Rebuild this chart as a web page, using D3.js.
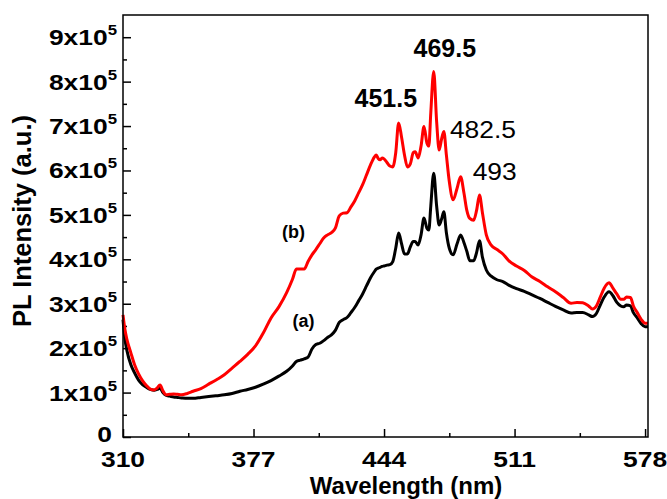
<!DOCTYPE html>
<html>
<head>
<meta charset="utf-8">
<script src="https://cdnjs.cloudflare.com/ajax/libs/d3/7.8.5/d3.min.js"></script>
<style>
	body { margin: 0; background: #fff; }
	svg { font-family: "Liberation Sans", Arial, sans-serif; }
</style>
</head>
<body>
<div id="vis-container"></div>
<script>
/* DATA - intensity in units of 1e5 */

const wavelength = [
	310, 311, 312, 314, 316, 318, 320, 322, 324, 326,
	327.5, 329, 330.5, 332, 334, 336, 338, 340, 343, 346,
	350, 354, 358, 362, 366, 370, 374, 378, 382, 386,
	390, 394, 397, 399, 401, 403, 405, 407, 409, 411,
	413, 415, 417, 419, 421, 423, 425, 427, 429, 431,
	433, 435, 437, 439, 440, 441, 442, 443, 444, 445.5,
	447, 448.5, 450, 451.5, 453, 454.5, 456, 457.5, 459, 460,
	461.5, 463, 464.5, 466, 467, 468, 469.5, 471, 472.3, 473.5,
	474.7, 476, 477.5, 479.5, 481.5, 483.3, 485, 486.5, 488, 490,
	491.5, 493, 494.5, 496.5, 499, 502, 505, 508, 512, 516,
	520, 524, 528, 532, 536, 540, 543, 546, 549, 551,
	553, 555, 557, 559.5, 561.5, 563.5, 565.5, 567, 568.5, 570.5,
	572, 574, 576, 578, 579.5
];

// (a) black
const seriesA = [
	2.64, 2.20, 1.95, 1.63, 1.44, 1.28, 1.18, 1.12, 1.07, 1.05,
	1.07, 1.10, 1.00, 0.94, 0.92, 0.90, 0.89, 0.88, 0.87, 0.87,
	0.89, 0.91, 0.93, 0.95, 0.98, 1.03, 1.07, 1.12, 1.19, 1.27,
	1.37, 1.48, 1.60, 1.70, 1.73, 1.76, 1.80, 1.98, 2.08, 2.11,
	2.17, 2.24, 2.30, 2.40, 2.58, 2.64, 2.69, 2.80, 2.92, 3.07,
	3.22, 3.40, 3.58, 3.72, 3.78, 3.80, 3.82, 3.84, 3.85, 3.87,
	3.88, 3.95, 4.25, 4.59, 4.35, 4.12, 4.12, 4.28, 4.40, 4.40,
	4.32, 4.55, 4.93, 4.70, 4.66, 5.20, 5.94, 5.20, 4.77, 4.90,
	5.07, 4.60, 4.25, 4.10, 4.35, 4.55, 4.38, 4.18, 3.97, 3.97,
	4.15, 4.42, 4.05, 3.76, 3.62, 3.54, 3.50, 3.42, 3.34, 3.28,
	3.20, 3.12, 3.03, 2.94, 2.86, 2.79, 2.80, 2.80, 2.75, 2.71,
	2.78, 2.97, 3.15, 3.27, 3.18, 3.03, 2.95, 2.93, 2.97, 2.95,
	2.80, 2.68, 2.55, 2.48, 2.48
];

// (b) red
const seriesB = [
	2.75, 2.42, 2.20, 1.90, 1.62, 1.42, 1.27, 1.16, 1.08, 1.06,
	1.10, 1.17, 1.04, 0.95, 0.96, 0.97, 0.96, 0.95, 0.98, 1.03,
	1.09, 1.19, 1.29, 1.40, 1.55, 1.70, 1.86, 2.05, 2.34, 2.68,
	2.93, 3.25, 3.55, 3.78, 3.78, 3.78, 3.95, 4.10, 4.22, 4.35,
	4.48, 4.55, 4.60, 4.70, 4.98, 5.04, 5.05, 5.18, 5.32, 5.50,
	5.68, 5.90, 6.12, 6.30, 6.35, 6.27, 6.24, 6.28, 6.26, 6.18,
	6.10, 6.08, 6.40, 7.07, 6.75, 6.35, 6.08, 6.15, 6.40, 6.42,
	6.28, 6.55, 6.99, 6.62, 6.55, 7.30, 8.23, 7.10, 6.46, 6.70,
	6.88, 6.35, 5.75, 5.34, 5.60, 5.86, 5.50, 5.10, 4.92, 4.88,
	5.10, 5.45, 5.05, 4.55, 4.32, 4.22, 4.12, 3.97, 3.85, 3.75,
	3.60, 3.50, 3.38, 3.27, 3.14, 3.01, 3.03, 3.02, 2.95, 2.88,
	2.95, 3.15, 3.35, 3.47, 3.35, 3.22, 3.10, 3.10, 3.15, 3.14,
	2.95, 2.80, 2.65, 2.56, 2.56
];

const xTicks = [310, 377, 444, 511, 578];
const yTicks = [0, 1, 2, 3, 4, 5, 6, 7, 8, 9];
const peakNames = ["469.5", "451.5", "482.5", "493"];
const curveNames = ["(a)", "(b)"];

/* CHART */

let margin = {top: 15, right: 19, bottom: 62, left: 123},
	width = 667,
	height = 499,
	dWidth = width - margin.left - margin.right,
	dHeight = height - margin.top - margin.bottom;

let x = d3.scaleLinear().domain([310, 579.5]).range([0, dWidth]);
let y = d3.scaleLinear().domain([0, 9.5]).range([dHeight, 0]);

let svg = d3.select('#vis-container')
	.append('svg')
	.attr('width', width)
	.attr('height', height);

let g = svg.append("g").attr("transform", `translate(${margin.left},${margin.top})`);

// text with an optional sideways stretch (tick labels in the source look widened)
const addText = (parent, px, py, str, size, weight, anchor, sx) => {
	return parent.append("text")
		.attr("transform", `translate(${px},${py}) scale(${sx || 1},1)`)
		.attr("text-anchor", anchor || "middle")
		.attr("font-size", size)
		.attr("font-weight", weight || "bold")
		.attr("fill", "#000")
		.text(str);
}

// ticks, pointing inward
const styleAxis = sel => {
	sel.select(".domain").remove();
	sel.selectAll("line").attr("stroke", "#000").attr("stroke-width", 1.5);
}

let xMinor = xTicks.slice(0, -1).map(v => v + 33.5);
let yMinor = yTicks.slice(0, -1).map(v => v + 0.5);

g.append("g").attr("transform", `translate(0,${dHeight})`)
	.call(d3.axisBottom(x).tickValues(xTicks).tickSize(-8).tickFormat(""))
	.call(styleAxis);
g.append("g").attr("transform", `translate(0,${dHeight})`)
	.call(d3.axisBottom(x).tickValues(xMinor).tickSize(-4).tickFormat(""))
	.call(styleAxis);
g.append("g")
	.call(d3.axisLeft(y).tickValues(yTicks).tickSize(-8).tickFormat(""))
	.call(styleAxis);
g.append("g")
	.call(d3.axisLeft(y).tickValues(yMinor).tickSize(-4).tickFormat(""))
	.call(styleAxis);

// tick labels
xTicks.forEach(v => addText(g, x(v), dHeight + 30, v, 22, "bold", "middle", 1.2));

yTicks.forEach(v => {
	if (v === 0) {
		addText(g, -11, y(v) + 5, "0", 22, "bold", "end", 1.2);
	} else {
		let t = addText(g, -6, y(v) + 8, "", 22, "bold", "end", 1.2);
		t.append("tspan").text(v + "x10");
		t.append("tspan").attr("font-size", 14).attr("dy", -10).text("5");
	}
});

// axis titles
addText(g, 283, dHeight + 57, "Wavelength (nm)", 24);
svg.append("text")
	.attr("transform", `translate(31,${margin.top + 206}) rotate(-90)`)
	.attr("text-anchor", "middle")
	.attr("font-size", 25.5)
	.attr("font-weight", "bold")
	.text("PL Intensity (a.u.)");

// curves
let line = d3.line()
	.x((d, i) => x(wavelength[i]))
	.y(d => y(d))
	.curve(d3.curveMonotoneX);

g.append("path")
	.datum(seriesA)
	.attr("fill", "none")
	.attr("stroke", "#000")
	.attr("stroke-width", 3)
	.attr("stroke-linejoin", "round")
	.attr("d", line);

g.append("path")
	.datum(seriesB)
	.attr("fill", "none")
	.attr("stroke", "#ff0000")
	.attr("stroke-width", 3)
	.attr("stroke-linejoin", "round")
	.attr("d", line);

// frame
g.append("rect")
	.attr("width", dWidth)
	.attr("height", dHeight)
	.attr("fill", "none")
	.attr("stroke", "#000")
	.attr("stroke-width", 1.5);

// peak and curve labels
addText(g, x(475.2), y(8.56), peakNames[0], 25);
addText(g, x(444.9), y(7.43), peakNames[1], 25);
addText(g, x(477.8), y(6.73), peakNames[2], 24, "normal", "start", 1.1);
addText(g, x(489.5), y(5.79), peakNames[3], 24, "normal", "start", 1.1);
addText(g, x(402.7), y(2.48), curveNames[0], 18);
addText(g, x(397.5), y(4.48), curveNames[1], 18);
</script>
</body>
</html>
